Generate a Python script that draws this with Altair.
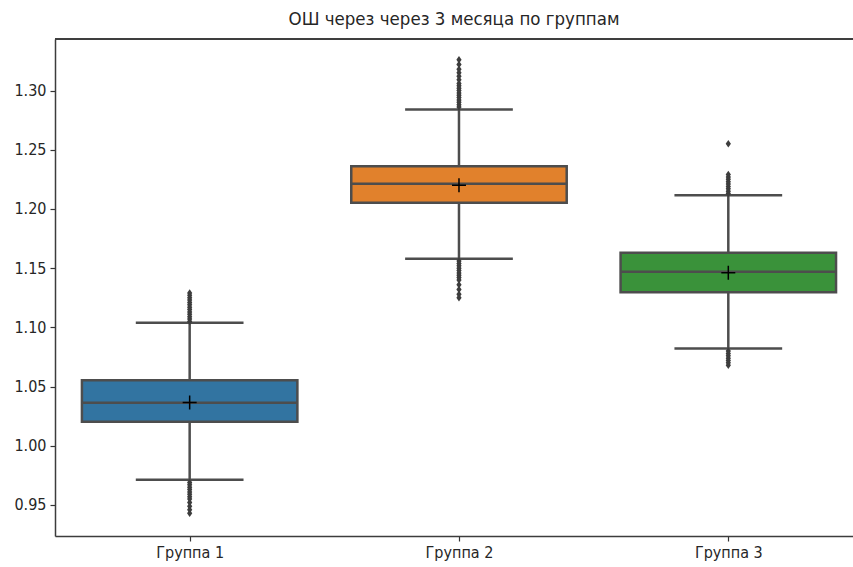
import json
import altair as alt
import pandas as pd

# ---- data ----
groups = ["Группа 1", "Группа 2", "Группа 3"]
q1 = [1.0203, 1.2052, 1.1297]
median = [1.0363, 1.2212, 1.1469]
q3 = [1.0554, 1.2361, 1.1630]
whisk_lo = [0.9713, 1.1579, 1.0822]
whisk_hi = [1.1039, 1.2840, 1.2116]
means = [1.0365, 1.2201, 1.1461]

outliers_1 = [1.105, 1.107, 1.109, 1.111, 1.113, 1.115, 1.117, 1.119, 1.121, 1.123,
              1.125, 1.127, 1.129,
              0.969, 0.967, 0.965, 0.963, 0.961, 0.959, 0.957, 0.955, 0.952, 0.949,
              0.946, 0.943]
outliers_2 = [1.286, 1.288, 1.290, 1.292, 1.294, 1.296, 1.298, 1.300, 1.302, 1.304,
              1.306, 1.309, 1.312, 1.315, 1.318, 1.322, 1.326,
              1.156, 1.154, 1.152, 1.150, 1.148, 1.146, 1.144, 1.142, 1.140, 1.136,
              1.132, 1.128, 1.125]
outliers_3 = [1.213, 1.215, 1.217, 1.219, 1.221, 1.223, 1.225, 1.227, 1.229, 1.255,
              1.080, 1.078, 1.076, 1.074, 1.072, 1.070, 1.068]

y_ticks = [0.95, 1.00, 1.05, 1.10, 1.15, 1.20, 1.25, 1.30]
colors = ["#3274a1", "#e1812c", "#3a923a"]
title_text = "ОШ через через 3 месяца по группам"

# ---- tables ----
box_df = pd.DataFrame({
    "group": groups, "pos": list(range(len(groups))),
    "q1": q1, "median": median, "q3": q3,
    "lo": whisk_lo, "hi": whisk_hi, "mean": means,
})
out_rows = []
for i, vals in enumerate([outliers_1, outliers_2, outliers_3]):
    for v in vals:
        out_rows.append({"group": groups[i], "pos": i, "value": v})
out_df = pd.DataFrame(out_rows)

FONT = "DejaVu Sans Condensed, DejaVu Sans"
LINE = "#4d4d4d"
TXT = "#262626"

xscale = alt.Scale(domain=[-0.5, 2.463], nice=False, zero=False)
yscale = alt.Scale(domain=[0.9238, 1.3435], nice=False, zero=False)
label_expr = json.dumps(groups, ensure_ascii=False) + "[round(datum.value)]"
xaxis = alt.Axis(values=[0, 1, 2], labelExpr=label_expr, grid=False, tickSize=5,
                 tickColor="#333333", tickWidth=1.2, domainColor="#3c3c3c", domainWidth=1.5,
                 labelFont=FONT, labelFontSize=16, labelColor=TXT, labelPadding=3, title=None)
yaxis = alt.Axis(values=y_ticks, format=".2f", grid=False, tickSize=5,
                 tickColor="#333333", tickWidth=1.2, domainColor="#3c3c3c", domainWidth=1.5,
                 labelFont=FONT, labelFontSize=16, labelColor=TXT, labelPadding=4, title=None)
color = alt.Color("group:N", scale=alt.Scale(domain=groups, range=colors), legend=None)

base = alt.Chart(box_df).transform_calculate(
    xl="datum.pos - 0.4", xr="datum.pos + 0.4",
    cl="datum.pos - 0.2", cr="datum.pos + 0.2",
)

whisk = base.mark_rule(color=LINE, strokeWidth=2.5).encode(
    x=alt.X("pos:Q", scale=xscale, axis=xaxis),
    y=alt.Y("lo:Q", scale=yscale, axis=yaxis),
    y2="hi:Q",
)
cap_lo = base.mark_rule(color=LINE, strokeWidth=2.5).encode(
    x=alt.X("cl:Q", scale=xscale, axis=xaxis), x2="cr:Q",
    y=alt.Y("lo:Q", scale=yscale, axis=yaxis),
)
cap_hi = base.mark_rule(color=LINE, strokeWidth=2.5).encode(
    x=alt.X("cl:Q", scale=xscale, axis=xaxis), x2="cr:Q",
    y=alt.Y("hi:Q", scale=yscale, axis=yaxis),
)
box = base.mark_bar(stroke=LINE, strokeWidth=2.5, opacity=1).encode(
    x=alt.X("xl:Q", scale=xscale, axis=xaxis), x2="xr:Q",
    y=alt.Y("q1:Q", scale=yscale, axis=yaxis), y2="q3:Q",
    color=color,
)
med = base.mark_rule(color=LINE, strokeWidth=2.5).encode(
    x=alt.X("xl:Q", scale=xscale, axis=xaxis), x2="xr:Q",
    y=alt.Y("median:Q", scale=yscale, axis=yaxis),
)
fliers = alt.Chart(out_df).mark_point(
    shape="M0,-1L0.7,0L0,1L-0.7,0Z", filled=True, color="#3d3d3d", size=56, opacity=1,
).encode(
    x=alt.X("pos:Q", scale=xscale, axis=xaxis),
    y=alt.Y("value:Q", scale=yscale, axis=yaxis),
)
mean_pt = base.mark_point(
    shape="M-1,0L1,0M0,-1L0,1", filled=False, color="#000000", size=196,
    strokeWidth=1.5, opacity=1,
).encode(
    x=alt.X("pos:Q", scale=xscale, axis=xaxis),
    y=alt.Y("mean:Q", scale=yscale, axis=yaxis),
)
top_spine = alt.Chart(box_df).mark_rule(color="#3c3c3c", strokeWidth=1.5).encode(
    x=alt.value(0), x2=alt.value(798), y=alt.value(0),
)

chart = alt.layer(
    whisk, cap_lo, cap_hi, box, med, fliers, mean_pt, top_spine
).properties(
    width=798, height=497,
    title=alt.TitleParams(title_text, font=FONT, fontSize=18.5, fontWeight="normal",
                          color=TXT, offset=10, anchor="middle"),
    autosize=alt.AutoSizeParams(type="none"),
    padding={"left": 55, "top": 39, "right": 0, "bottom": 31},
).configure_view(stroke=None).configure(background="white")

chart.save("out.html", embed_options={"renderer": "svg", "actions": False})
